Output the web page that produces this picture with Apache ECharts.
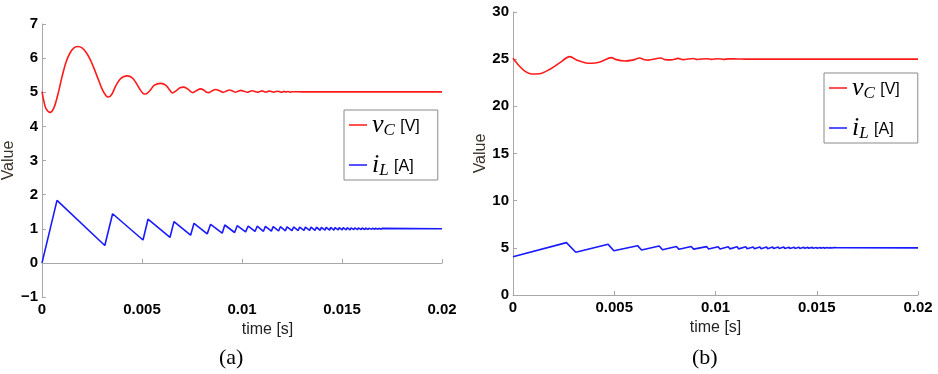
<!DOCTYPE html>
<html>
<head>
<meta charset="utf-8">
<script src="https://cdn.jsdelivr.net/npm/echarts@6/dist/echarts.min.js"></script>
<style>html,body{margin:0;padding:0;background:#fff}#c{width:938px;height:374px}</style>
</head>
<body>
<div id="c"></div>
<script>
// ---------- data ----------
const xTicks = [0, 0.005, 0.01, 0.015, 0.02];
const yTicksA = [-1, 0, 1, 2, 3, 4, 5, 6, 7];
const yTicksB = [0, 5, 10, 15, 20, 25, 30];

// (a) capacitor voltage
const tVcA = [0,0.0001,0.0002,0.0004,0.0006,0.0008,0.001,0.0012,0.0014,0.0016,0.00178,0.002,0.0022,0.0024,0.0026,0.0028,0.003,0.0032,0.00333,0.0035,0.0037,0.0039,0.0041,0.00427,0.0045,0.0047,0.0049,0.00505,0.00519,0.0054,0.0056,0.00593,0.0062,0.0064,0.00652,0.0067,0.0069,0.0071,0.0073,0.00745,0.00755,0.0077,0.00793,0.0081,0.0082,0.00835,0.0085,0.00868,0.0089,0.00906,0.0092,0.00938,0.00955,0.00968,0.0098,0.00995,0.0101,0.01027,0.0104,0.01052,0.01065,0.01077,0.0109,0.011,0.0111,0.0112,0.0113,0.0114,0.0115,0.0116,0.0117,0.0118,0.0119,0.012,0.0121,0.0122,0.0123,0.0124,0.0125,0.013,0.02];
const vcA = [5.02,4.72,4.52,4.41,4.55,4.95,5.45,5.88,6.15,6.3,6.34,6.3,6.17,5.97,5.7,5.4,5.1,4.9,4.86,4.95,5.2,5.38,5.46,5.48,5.43,5.28,5.08,4.97,4.95,5.05,5.2,5.26,5.2,5.05,4.98,5.04,5.13,5.15,5.09,5.01,4.99,5.04,5.1,5.06,5.01,4.99,5.04,5.08,5.04,5.0,5.03,5.065,5.03,5.0,5.03,5.055,5.03,5.0,5.03,5.045,5.02,5.0,5.025,5.04,5.02,5.005,5.025,5.035,5.015,5.005,5.02,5.03,5.01,5.005,5.025,5.01,5.02,5.005,5.015,5.01,5.01];

// (a) inductor current (peaks and troughs)
const tIlA = [0,0.00075,0.00314,0.00353,0.00505,0.0053,0.0064,0.0066,0.00743,0.0076,0.00826,0.00843,0.00901,0.00914,0.00963,0.00976,0.01018,0.01031,0.01065,0.01076,0.01107,0.01117,0.01147,0.01156,0.01183,0.01192,0.01217,0.01225,0.0125,0.01258,0.01281,0.01288,0.0131,0.01317,0.01338,0.01345,0.01365,0.01372,0.01391,0.01397,0.01415,0.01421,0.01438,0.01443,0.0146,0.01465,0.01481,0.01486,0.01501,0.01506,0.01521,0.01526,0.0154,0.01545,0.01559,0.01564,0.01578,0.01582,0.01596,0.016,0.01614,0.01618,0.01631,0.01635,0.01648,0.01652,0.01664,0.01668,0.0168,0.01684,0.01696,0.017,0.02];
const ilA = [0,1.83,0.51,1.44,0.67,1.28,0.75,1.21,0.81,1.16,0.85,1.13,0.87,1.11,0.89,1.09,0.91,1.08,0.92,1.075,0.925,1.07,0.93,1.065,0.935,1.06,0.94,1.056,0.944,1.053,0.947,1.05,0.95,1.048,0.952,1.046,0.954,1.044,0.956,1.042,0.958,1.04,0.96,1.038,0.962,1.036,0.964,1.034,0.966,1.032,0.968,1.03,0.97,1.028,0.972,1.026,0.974,1.024,0.976,1.022,0.978,1.02,0.98,1.018,0.982,1.016,0.984,1.014,0.986,1.012,0.988,1.01,1.0];

// (b) capacitor voltage
const tVcB = [0,0.0003,0.0006,0.00091,0.0013,0.0018,0.0023,0.0028,0.0032,0.0036,0.00387,0.0043,0.00486,0.0051,0.00552,0.0059,0.00626,0.00645,0.00667,0.0073,0.0075,0.0078,0.00815,0.0084,0.0089,0.0091,0.00956,0.0098,0.01013,0.0104,0.01063,0.0111,0.0115,0.02];
const vcB = [25.09,24.3,23.7,23.43,23.45,23.9,24.6,25.27,24.85,24.6,24.56,24.7,25.16,24.95,24.81,24.9,25.12,24.97,24.9,25.12,24.95,24.92,25.08,24.95,25.07,24.97,25.05,24.98,25.04,24.98,25.03,25.02,25.0,25.0];

// (b) inductor current (peaks and troughs)
const tIlB = [0,0.00264,0.0031,0.0047,0.00498,0.00615,0.00635,0.00722,0.00738,0.00807,0.0082,0.0088,0.00892,0.00956,0.00966,0.01013,0.01022,0.01063,0.01071,0.01107,0.01114,0.0115,0.01156,0.01186,0.01192,0.01219,0.01225,0.01252,0.01257,0.01282,0.01287,0.0131,0.01315,0.01337,0.01342,0.01363,0.01367,0.01388,0.01392,0.01412,0.01416,0.01435,0.01439,0.01457,0.0146,0.01478,0.01481,0.01498,0.01501,0.01517,0.0152,0.01535,0.01538,0.01553,0.01556,0.0157,0.01573,0.01586,0.01589,0.01602,0.01605,0.02];
const ilB = [4.06,5.55,4.53,5.37,4.70,5.23,4.77,5.20,4.80,5.15,4.84,5.14,4.86,5.13,4.87,5.12,4.88,5.12,4.89,5.11,4.89,5.11,4.9,5.1,4.9,5.1,4.91,5.09,4.91,5.09,4.92,5.08,4.92,5.08,4.93,5.07,4.93,5.07,4.94,5.06,4.94,5.06,4.95,5.05,4.95,5.05,4.96,5.04,4.96,5.04,4.97,5.03,4.97,5.03,4.98,5.02,4.98,5.02,4.99,5.01,4.99,5.0];

const seriesNames = ['vC', 'iL'];
const legendLabels = { vC: ['v', 'C', '[V]'], iL: ['i', 'L', '[A]'] };
const captions = ['(a)', '(b)'];

// ---------- keep the fine switching ripple ----------
// zrender merges path segments shorter than ~2px; switch that off so every tooth is drawn.
(function () {
  try {
    const pathProto = Object.getPrototypeOf(echarts.graphic.Polyline.prototype);
    [pathProto, echarts.graphic.Polyline.prototype].forEach(p => {
      Object.defineProperty(p, 'segmentIgnoreThreshold', {
        configurable: true, get() { return 0; }, set(v) {}
      });
    });
  } catch (e) {}
})();

// ---------- chart ----------
const zip = (t, v) => t.map((x, i) => [x, v[i]]);
const RED = '#ff1a1a', BLUE = '#1a1aff', AX = '#a8a8a8';

function xAxis(gridIndex, shift) {
  return {
    type: 'value', gridIndex, min: 0, max: 0.02, interval: 0.005,
    name: 'time [s]', nameLocation: 'middle', nameGap: 16,
    nameTextStyle: { fontFamily: 'Liberation Sans', fontSize: 16, color: '#222', padding: [0, 0, 0, shift] },
    axisLine: { show: true, lineStyle: { color: AX, width: 1 } },
    axisTick: { show: true, inside: true, length: 4, lineStyle: { color: AX } },
    axisLabel: { margin: 5, fontFamily: 'Liberation Sans', fontWeight: 'bold', fontSize: 15, color: '#000',
      formatter: v => String(v) },
    splitLine: { show: false }
  };
}
function yAxis(gridIndex, min, max, interval, gap) {
  return {
    type: 'value', gridIndex, min, max, interval,
    name: 'Value', nameLocation: 'middle', nameGap: gap,
    nameTextStyle: { fontFamily: 'Liberation Sans', fontSize: 16, color: '#3a3328' },
    axisLine: { show: true, lineStyle: { color: AX, width: 1 } },
    axisTick: { show: true, inside: true, length: 4, lineStyle: { color: AX } },
    axisLabel: { margin: 4, fontFamily: 'Liberation Sans', fontWeight: 'bold', fontSize: 15, color: '#000',
      formatter: v => String(v).replace('-', '\u2212') },
    splitLine: { show: false }
  };
}
function legend(left, top) {
  return {
    orient: 'vertical', left, top,
    data: seriesNames,
    icon: 'rect', itemWidth: 18, itemHeight: 1.5, itemGap: 12,
    padding: [1, 18, 1, 5],
    borderColor: '#8a8a8a', borderWidth: 1, backgroundColor: '#fff',
    selectedMode: false,
    formatter: n => { const l = legendLabels[n]; return '{v|' + l[0] + '}{s|' + l[1] + '} {u|' + l[2] + '}'; },
    textStyle: {
      rich: {
        v: { fontFamily: 'Liberation Serif', fontStyle: 'italic', fontSize: 26, lineHeight: 26, color: '#000' },
        s: { fontFamily: 'Liberation Serif', fontStyle: 'italic', fontSize: 17, lineHeight: 17, padding: [11, 2, 0, 0], color: '#000' },
        u: { fontFamily: 'Liberation Sans', fontSize: 16, lineHeight: 26, padding: [3, 0, 0, 0], color: '#000' }
      }
    }
  };
}
function line(name, data, color, xi, smooth) {
  return { name, type: 'line', xAxisIndex: xi, yAxisIndex: xi, data, showSymbol: false, symbol: 'none',
    smooth: smooth, lineStyle: { color, width: 1.6 }, itemStyle: { color }, animation: false };
}

const chart = echarts.init(document.getElementById('c'), null, { renderer: 'canvas' });
chart.setOption({
  backgroundColor: '#fff',
  animation: false,
  grid: [
    { left: 41, top: 24, width: 401, height: 273 },
    { left: 513, top: 12, width: 405, height: 283 }
  ],
  xAxis: [xAxis(0, 51), xAxis(1, 0)],
  yAxis: [yAxis(0, -1, 7, 1, 18), yAxis(1, 0, 30, 5, 23)],
  legend: [legend(344, 110), legend(824, 73)],
  series: [
    line('vC', zip(tVcA, vcA), RED, 0, 0.3),
    line('iL', zip(tIlA, ilA), BLUE, 0, false),
    line('vC', zip(tVcB, vcB), RED, 1, 0.3),
    line('iL', zip(tIlB, ilB), BLUE, 1, false)
  ],
  graphic: [
    { type: 'text', left: 219, top: 347, style: { text: captions[0], font: '22px "Liberation Serif"', fill: '#000' } },
    { type: 'text', left: 692, top: 347, style: { text: captions[1], font: '22px "Liberation Serif"', fill: '#000' } }
  ]
});
</script>
</body>
</html>
